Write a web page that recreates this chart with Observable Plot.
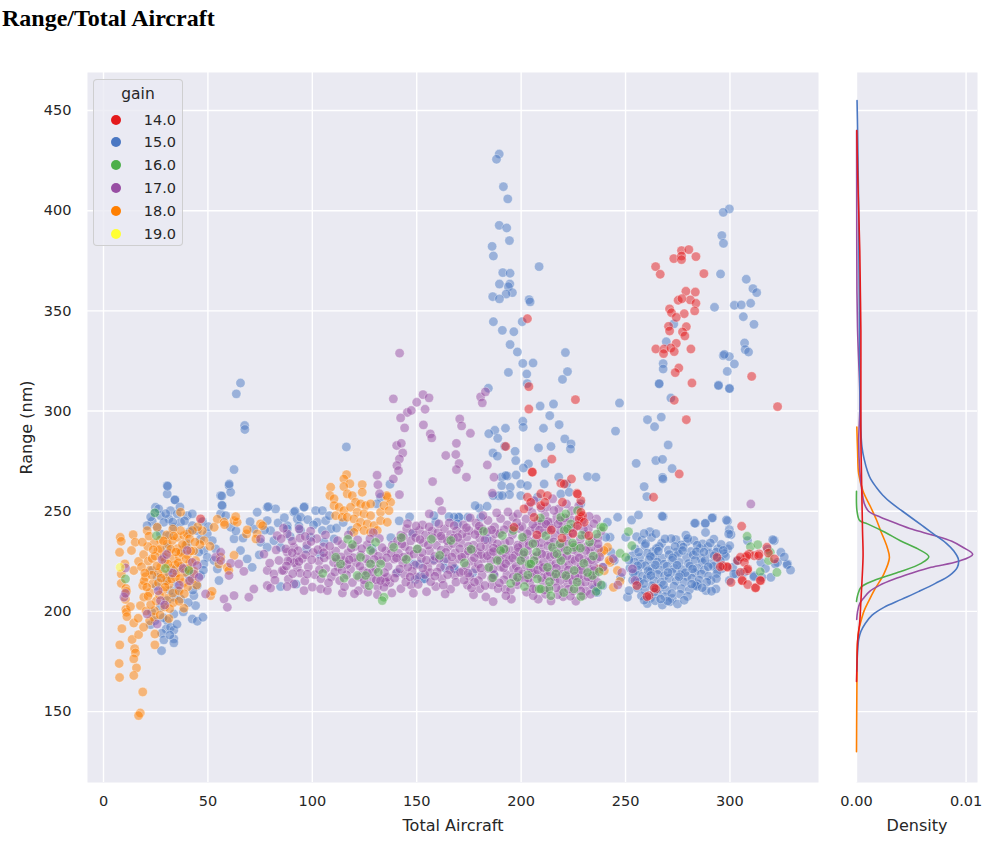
<!DOCTYPE html>
<html>
<head>
<meta charset="utf-8">
<script src="https://cdn.jsdelivr.net/npm/d3@7"></script>
<script src="https://cdn.jsdelivr.net/npm/@observablehq/plot@0.6"></script>
<style>
body { margin: 0; background: #fff; width: 1005px; height: 848px; overflow: hidden; position: relative; font-family: "DejaVu Sans", sans-serif; }
#title { position: absolute; left: 2px; top: 5px; font: bold 24px "Liberation Serif", "Times New Roman", serif; color: #000; }
#charts { position: absolute; left: 0; top: 40px; display: flex; }
#legend { position: absolute; left: 93px; top: 79px; width: 88px; height: 165px; border: 1px solid rgba(204,204,204,0.9); border-radius: 4px; background: rgba(234,234,242,0.8); color: #262626; }
#legend .lt { position: absolute; left: 0; width: 88px; top: 4px; text-align: center; font-size: 15.5px; line-height: 20px; }
#legend .li { position: absolute; left: 0; width: 88px; height: 20px; line-height: 20px; font-size: 14.5px; }
#legend .dot { position: absolute; left: 17px; top: 5px; width: 10px; height: 10px; border-radius: 50%; }
#legend .lab { position: absolute; right: 6px; }
svg [aria-label="x-axis label"], svg [aria-label="y-axis label"] { font-size: 16px !important; }
</style>
</head>
<body>
<div id="title">Range/Total Aircraft</div>
<div id="charts"></div>
<div id="legend"></div>
<script>
const gains = ["14.0", "15.0", "16.0", "17.0", "18.0", "19.0"];
const colors = ["#e41a1c", "#4a77c2", "#4daf4a", "#984ea3", "#ff7f00", "#ffff33"];
const xTicks = [0, 50, 100, 150, 200, 250, 300];
const yTicks = [150, 200, 250, 300, 350, 400, 450];
const densTicks = [0, 0.01];

// gain 15.0 [total aircraft, range]
const g15 = [
  [189.5,428.3],[188.2,425.7],[191.5,412],[193.6,405.9],[189.5,392.7],[193.1,391.4],[194.4,385.1],[186.1,382.2],[186.7,377.4],[208.6,372.1],
  [191.2,369.1],[194.7,368.8],[189.6,363.4],[194.6,363.4],[193.9,362.1],[195.8,359.1],[192.8,358.4],[186.4,357.1],[189.6,356],[203.8,355.6],
  [204.3,354.5],[186.7,344.6],[200.5,344.6],[191,340.3],[196.5,339.6],[194.7,333.2],[198.2,329.5],[221.2,329.2],[200.8,323.8],[205.7,324],
  [193.9,319.3],[222.2,319.7],[202.7,318.5],[219.8,315.8],[202.9,313.7],[184.3,311.4],[209.1,302.5],[215.5,303.5],[213.7,297.7],[218.2,293.2],
  [247.1,304],[200.8,294.9],[201,291.9],[192.5,291.4],[187.4,290.4],[184.5,288.7],[210.7,291.4],[245.2,290],[260.5,295.7],[263.9,292.2],[267.1,297],
  [188.8,286.4],[220.9,286.1],[223.9,283.6],[223.6,281.1],[214.3,282.3],[208.3,281.6],[211.5,273.8],[203.5,273.6],[197.1,279.9],[192.1,282.4],
  [186.5,279.1],[188.6,277.5],[197.4,275.3],[201.1,271.6],[218,267],[221.8,263.6],[190.7,267],[193.4,267.6],[197.6,268.1],[190.7,262.8],
  [199.8,263.6],[203,262.8],[194.8,262],[194.4,258.3],[189.4,257.7],[180,251.5],[183.7,252.5],[170.1,247],[168.2,221.5],[153.8,216.4],
  [151.9,217.7],[137.2,263.5],[116.3,282.1],[192.6,267.8],[211,263.6],[231.8,267.3],[235.8,267],[191,257.8],[199.8,257.8],[207.8,257],
  [219,258.6],[223,259.5],[228.6,253.7],[180.7,247],[170.3,247],[167.9,221.2],[153.5,216.2],[235,211.2],[239,212.9],[236.6,209.5],[241.3,244.5],
  [266.1,313.5],[294.5,313],[299.7,311.4],[271.7,306.5],[270.4,283.1],[255.1,273.9],[264.5,275.3],[267.7,275.9],[272.3,271.3],[267.7,266.9],
  [267.9,266.1],[258.9,262.3],[260.2,257.3],
  [299.7,400.9],[296.8,399.2],[296.1,387.6],[296.9,383.7],[295.5,368.4],[307.8,365.8],[311,361.1],[312.8,359.1],[309.9,353.8],[302.1,352.8],
  [305.4,353],[292.6,351.8],[306.4,347.1],[311.5,343.3],[273.1,343.5],[269.5,334.6],[307,334],[307.3,330.7],[308.9,329.5],[296.8,327.7],
  [299.7,327.2],[297.3,328.3],[302.1,323.5],[268,323.7],[268,321],[298.7,319.8],[266.1,313.7],[294.5,312.7],[299.8,311.2],
  [246.2,247],[252.9,245.6],[256.2,248.1],[268,247.3],[283.5,244],[288.2,243.8],[291.7,246.8],[298.9,245.1],[299.7,240.8],[300.5,238.3],
  [261.6,239.8],[274.1,235.8],[279.4,234.8],[250.1,237],[255.3,237.3],[242.6,237],
  [321.2,235.3],[324.4,229.5],[327.6,223.7],[322.8,224.5],[319.6,217],[314.8,224.5],[311.6,217.8],[306.8,219.5],[302.9,218.7],[301.3,222],
  [303.7,225.4],[294.1,220.4],[290.9,215.4],[288.5,210.4],[284.5,213.7],[293.3,211.2],[299.7,215.4],[298.9,231.2],[294.1,231.2],[308.4,235.3],
  [320.5,235.8],[327.3,223.3],[321.7,223.7],[315.3,217],[311.4,217.3],[301.8,218.7],[303.4,225.3],[299.9,232.8],[299.4,238.7],[298.3,245.6],
  [291.4,246.6],[288.2,244],[283.1,244],[267.5,247.5],[326,227.2],[317,221.4],[318,231.1],[329,220.6],
  [250.9,207.1],[251.7,210.4],[255.7,215.4],[247.7,217],[236.6,212],[235.8,209.5],[239,222],[243,229.5],[240.6,237],[244.6,225.4],
  [257.8,235.6],[262.4,236.9],[267.3,234.1],[271.9,236.3],[276.6,233.2],[282.8,235.4],[286.9,233.7],[292.3,236.1],[295.8,233.4],
  [254.6,231.2],[259.3,232.8],[263.1,229.8],[266.2,232.4],[270.5,230.6],[274.4,229.6],[277.6,232.1],[281.3,229.9],[285.7,231.5],[289.4,232.3],[293.6,229.7],[297.2,228.8],
  [252.9,227.6],[256.8,226.9],[260.4,229.1],[263.8,227.7],[267.5,226.6],[270.9,228.4],[275.3,228.8],[279.2,226.9],[282.4,228.2],[286.1,226.7],[290.3,228.9],[294.2,226.6],[297.9,227.5],
  [254.3,224.6],[257.6,223.7],[261.2,225.8],[265.1,224.7],[268.4,223.6],[272.2,225.6],[275.8,224.5],[280.1,223.9],[283.3,225.7],[286.8,224.4],[291.1,223.8],[295.4,225.2],
  [252.1,221.7],[255.9,220.6],[259.5,222.8],[262.8,221.4],[266.3,220.7],[269.8,222.6],[273.4,221.5],[277.1,220.8],[280.8,222.7],[284.4,221.6],[287.7,220.6],[292.1,222.5],[296.3,221.4],
  [254.8,218.8],[258.2,217.6],[261.9,219.7],[265.4,218.5],[268.7,217.8],[272.3,219.6],[276.2,218.4],[279.4,217.5],[283.1,219.4],[286.3,218.7],[289.8,217.6],[293.7,218.9],
  [253.4,215.6],[256.7,214.8],[260.3,216.7],[263.6,215.4],[267.2,214.6],[270.8,216.5],[274.3,215.3],[278.1,214.7],[281.7,216.6],[285.2,215.7],[288.9,214.6],
  [255.7,211.6],[259.2,210.7],[262.6,212.8],[266.1,211.5],[269.7,210.6],[273.2,212.7],[276.8,211.4],[280.6,210.8],[284.2,212.5],
  [257.6,207.8],[261.8,206.6],[265.3,208.9],[268.8,207.4],[272.4,206.5],[276.1,208.6],[279.7,207.5],
  [260.4,203.9],[264.2,205.3],[267.6,203.2],[271.3,204.8],[274.9,203.7],
  [264.5,238.8],[278.9,238.1],[288.3,239.4],[258.9,238.9],[283.5,212.9],[291.2,210.1],
  [259.6,233.8],[264.8,231.4],[268.9,236.2],[273.7,232.4],[279.8,236.4],[284.3,233.1],[290.6,234.2],[256.3,229.6],[261.9,227.4],[265.7,230.1],
  [272.6,226.8],[277.3,230.4],[283.9,229.8],[288.1,225.6],[292.4,227.8],[255.8,222.8],[260.8,220.3],[264.3,223.2],[270.3,219.4],[274.7,223.1],
  [278.6,219.3],[282.1,221.2],[289.6,222.3],[293.5,216.4],[258.7,213.9],[262.1,217.9],[268.2,213.3],[272.1,208.9],[275.6,217.3],[281.7,213.6],
  [286.7,211.8],[263.7,209.7],[270.2,205.2],[278.1,205.6],[258.9,205.6],[266.8,206.2],[287.5,229.6],[296.8,230.5],[253.7,219.3],[251.6,225.7],
  // left cluster and 50-140 band
  [30.5,262.8],[30.5,258.6],[34.2,255.8],[24.9,252],[24.6,249.2],[27.3,247.8],[32.1,250.3],[31.3,246.2],[28.9,244.5],[25.7,242],
  [33.7,242],[36.9,244.5],[40.1,247.8],[42.5,248.7],[42.5,242.8],[44.9,240.3],[46.5,236.2],[48.1,230.4],[49.7,227],[48.1,223.7],
  [46.5,217.9],[44.9,212.9],[43.3,207.9],[44.1,202.9],[42.5,196.2],[44.9,195.1],[47.6,197.1],[33.7,198.7],[30.5,195.4],[30,191.2],
  [32.1,192.1],[33.7,190.7],[27.9,189.1],[28.9,185.8],[33.7,186.3],[33.7,184.3],[27.8,180.4],[22.5,193.4],[24.7,195.4],[23.1,199.6],
  [27.3,202.1],[30.5,205.4],[33.7,207.1],[36.9,206.2],[32.1,210.4],[35.3,213.7],[29.7,215.4],[25.7,217],[23.3,220.4],[33.7,220.4],
  [37.7,222],[40.1,218.7],[41.7,215.4],[37.7,230.4],[40.1,233.7],[30.5,232],[28.9,227],[27.3,238.7],[31.3,237.8],[35.3,248.7],
  [23.3,245],[20.9,242.8],[49.7,238.7],[52.1,235.3],[53.7,231.2],[52.9,225.4],[54.5,221.2],[55.3,215.4],[56.1,248.7],[56.9,252.8],
  [56.1,257.8],[60.1,262.8],[60.9,259.5],[58.5,247.8],[60.9,242],[62.5,236.2],[65.6,230.4],[68.8,226.2],[71.2,222],[72,241.2],
  [75.2,234.5],[73.6,249.5],[78.4,252],[82.4,251.2],[78.4,245.3],[80,240.3],[81.6,235.3],[78.4,232],[84.8,232],[91.2,249.5],
  [92.8,246.2],[88,242.8],[65.6,314],[63.6,308.6],[67.6,292.8],[67.7,290.8],[62.5,270.8],[60.2,263.6],[56.7,257.6],[56.7,253],
  [30.7,262.5],[34.2,255.6],[78.9,252.3],[96.2,252.3],[101.6,250.3],[91.7,250],[96,252],[94.4,247],[104.8,250.3],[102.4,244.5],
  [106.4,245.3],[108.8,241.2],[104.8,240.4],[94.4,240.4],[88,241.2],[110.4,236.2],[99.2,237],[132.7,257],[131,253.7],[147.9,238.7],
  [148.7,223.7],[140.7,219.5],[163.1,225.4],[167.9,247],[169.5,243.7],[159.1,244.5],
  [22.6,247.1],[26.4,251.2],[29.8,248.8],[33.1,244.6],[36.6,252.1],[38.8,245.2],[41.3,239.8],[45.6,229.6],[47.4,244.8],[50.2,242.3],
  [31.6,218.4],[35.6,210.4],[38.2,199.8],[40.6,204.4],[42.8,210.6],[47.8,220.6],[25.4,212.6],[28.6,196.8],[31.8,188.2],[35.2,193.6],
  [63.4,240.2],[66.8,236.6],[70.2,244.8],[74.6,228.2],[77.2,240.6],[83.6,244.2],[86.6,246.8],[89.4,237.4],[93.6,242.6],[97.8,245.8],
  [100.6,243.2],[105.6,234.6],[108.2,247.8],[111.6,241.6],[114.8,244.4],[118.6,240.4],[97.2,231.2],[103.8,228.4],[92.2,213.6],[84.8,212.4],
  [128.6,231.4],[137.6,236.8],[141.6,245.2],[146.6,247.2],[158.2,247.8],[151.4,223.6],[176.8,219.2],[183.6,236.2],
  [165.5,247.3],[163.4,221.7],[158.2,225.9],[149.3,215.9],[174.5,247],[178,252.8],[186.6,257.8],[186.8,218.4]
];

// gain 18.0
const g18 = [
  [8,237],[8.5,235],[7.7,229.5],[10.2,223.7],[8.5,218.7],[8.5,214],[10.7,211.5],[11,210],[10.5,206],[10.7,201],
  [11,199.6],[11.2,197.4],[8.8,191.4],[7.8,183.3],[7.5,174],[7.7,167],[13.7,186],[14.9,181.4],[15.3,179.3],[14.5,176.3],
  [15.8,171.8],[14.5,168],[18.8,159.8],[17.6,149.3],[16.8,148],[16.8,188.4],[14.5,194.2],[12.9,202.4],[24.6,188.7],[24.6,183.3],
  [14.2,238.3],[15.2,234.5],[13.4,230.4],[16.8,225],[14.5,220.4],[18.8,212.9],[19.3,207.1],[17.7,202.9],[16.6,196.6],
  [20.9,240.3],[25.7,242],[27.3,235.7],[30.5,233.7],[32.9,235.3],[35.3,237],[38.5,237.8],[40.1,238.7],[36.9,240.3],[36.9,249.5],
  [47.3,240.3],[48.1,235.3],[51,232.5],[51.3,207.9],[38.5,201.6],[24.1,197.1],
  [19.2,228.4],[21.4,225.1],[22.3,220.6],[20.1,217.3],[23.5,213.8],[22.2,209.4],[25.3,205.2],[24.4,200.3],[26.1,230.5],[28.3,227.2],
  [27.4,222.1],[29.2,218.4],[26.3,214.2],[28.4,210.3],[30.2,206.5],[31.1,229.3],[33.4,226.2],[32.3,221.4],[34.4,217.2],[31.3,213.4],
  [33.2,209.1],[35.4,231.3],[36.3,227.4],[37.2,222.5],[35.1,219.2],[38.3,214.4],[36.2,210.2],[39.4,233.1],[40.2,228.3],[41.3,224.2],
  [39.1,219.5],[42.4,216.1],[40.3,212.3],[43.2,230.2],[44.1,225.4],[30.3,238.2],[33.2,241.1],[24.3,234.2],[21.2,232.4],[18.2,222.3],
  [19.4,215.2],[23.3,226.4],[27.2,231.3],[29.4,225.2],[32.2,231.1],[34.3,223.3],[37.1,229.4],[26.2,219.3],[30.4,215.2],[23.2,218.1],
  [29.3,202.2],[33.4,204.3],[36.2,205.1],[27.1,198.2],[31.3,196.4],[20.4,200.2],[22.1,195.3],[19.2,192.1],[41.2,236.3],[45.1,242.2],
  [43.3,220.1],[46.2,233.4],
  [18.6,234.6],[20.7,212.1],[21.8,237.6],[22.6,203.4],[24.7,227.6],[25.6,222.7],[26.8,208.2],[27.6,216.6],[28.7,235.2],[29.5,212.1],
  [30.8,223.7],[31.7,201.4],[32.6,216.2],[33.6,237.6],[34.7,229.7],[35.8,224.3],[36.5,216.4],[37.8,233.4],[38.7,208.8],[39.6,226.2],
  [40.7,221.3],[41.8,230.2],[42.6,240.4],[43.8,234.6],[44.6,213.2],[21.3,207.6],[23.8,230.8],[19.8,219.2],
  [54.5,246],[57.7,244.5],[62.5,245.3],[64,244.5],[56.1,227],[55.3,223.7],[59.3,222],[62.5,228],[68.5,238.7],[73.6,238.7],
  [73,236.2],[75.2,243.7],[58,243.3],[63.3,247.3],[68.8,240.7],[76.2,242.8],[53,242],[52,210],[60,220.5],
  [116.4,268.3],[115.1,266.1],[118,263.7],[115.1,262.3],[123.9,263.3],[123.9,259.5],[108.8,262],[108.4,257.8],[110.4,256.2],[116.7,258.7],
  [119.1,257.8],[120.7,254.5],[123.1,253.7],[125.5,252.8],[127.9,253.7],[110.4,252.8],[112.8,252],[115.1,250.3],[118.3,252],[121.5,249.5],
  [124.7,248.7],[127.9,247.8],[111.2,247.8],[114.3,247],[116.7,247],[119.9,246.2],[123.1,244.5],[126.3,243.7],[129.5,242.8],[121.5,242],
  [124.7,240.4],[127.9,239.5],[119.9,239.5],[132.7,249.5],[135.9,257],[137.5,254.5],[134.3,252.8],[135.6,257.8],[136.7,250.3],[132.7,245.3],
  [135.9,244.5],[131.1,240.4],
  [242.6,224.5],[239.8,220.3],[244.2,212],[247.3,215],[238.5,229.5],[241.4,232],[237.4,221.2],[242.1,225.4],[239.7,230.4],[246.1,220.4]
];

// gain 17.0
const g17 = [
  [141.8,328.9],[138.8,306.1],[150,304.4],[153,308.2],[155.9,306.6],[154,300.9],[145.5,299.3],[147.4,300.3],[142.3,296.6],[144.2,291.6],
  [153.2,293.1],[156.5,288.6],[157.2,286.6],[140.4,282.8],[142.6,283.9],[143.3,279.1],[141.7,276.1],[140.5,272.8],[141.3,270.3],[138.8,266.1],
  [131,268],[131.4,263.2],[132.2,258.7],[141.7,258.3],[157.6,264.8],[170.6,296.1],[171.5,292.6],[175.7,288.9],[169,283.9],[163.9,277.8],
  [168.7,278.3],[170.3,273.8],[169,270.8],[173.8,267],[160.8,255],[162,250.3],[156,248.7],[180.6,307.1],[181.4,304.1],[182.9,309.6],
  [183.8,273.1],[187,267],[186.2,259],[310,253.6],[253.3,221.2],[254.5,215.4],[244.1,226.3],[248.2,219.4],[246.3,213.2],
  [9.8,207.1],[10.5,209],[10.5,221.7],[20.9,198.7],[25.7,193.7],[28.1,225.9],[27.3,205.4],[40.1,230.4],[42.5,224.5],[44.9,222.9],
  [43.3,218.7],[45.7,217],[48.9,208.7],[53.7,227],[56.1,229.5],[56.1,225.4],[60.9,224],[60.1,217.9],[57.7,206.2],[59.3,202.1],
  [62.5,207.9],[64.8,223.7],[67.2,220],[72,211.2],[69.6,207.1],[78.4,220.4],[78.4,212.9],[80,211.7],[81.6,218.7],[84,225.4],
  [86.4,220.4],[88,229.5],[89.6,225.4],[91.2,232],[92.8,227],[92.8,222],[88,238.7],[83.2,237.8],[75.2,236.2],[30.2,228.4],
  [33.1,219.2],[36.3,213.1],[26.2,210.3],[38.1,221.4],[41.2,215.3],[29.3,203.2],
  [85.6,220.4],[88.5,216.1],[91.2,213.7],[96,210.4],[100,212.1],[104,211.2],[107.2,210.4],[87.3,231.2],[90.4,235.1],[93.2,230.3],
  [95.3,226.4],[98.1,222.2],[101.2,218.3],[97.4,233.2],[100.3,229.4],[103.2,225.1],[106.4,221.3],[109.1,217.2],[94.2,219.1],[91.3,224.3],
  [102.1,236.3],[105.3,232.2],[108.2,228.1],[96.4,215.2],[104.1,216.3],[110.2,224.4],[88.3,225.2],[99.2,240.1],[106.3,238.2],
  [111.2,230.1],[114.3,233.3],[117.1,229.2],[120.4,232.4],[123.2,228.1],[126.3,233.2],[129.1,229.4],[112.4,222.2],[115.2,225.3],[118.3,221.1],
  [121.1,224.4],[124.3,220.2],[127.2,224.1],[130.4,221.3],[133.1,225.2],[136.3,222.4],[139.2,226.1],[113.1,215.3],[116.4,218.2],[119.2,214.4],
  [122.3,217.1],[125.1,213.3],[128.4,216.2],[131.2,212.4],[134.3,216.1],[137.1,214.3],[135.2,230.2],[138.4,233.1],[132.1,236.4],[140.2,219.1],
  [117.3,238.2],[129.2,239.3],[114.4,209.2],[122.1,210.3],[135.1,214.6],[135.9,217],[134.3,212.1],[131.2,208.3],[138.1,209.2],
  [141.2,229.1],[144.3,232.4],[147.1,235.2],[150.4,231.1],[153.2,234.3],[156.1,230.2],[159.4,233.1],[162.2,236.3],[165.1,232.4],[168.3,229.2],
  [142.4,238.1],[145.2,241.3],[148.1,239.2],[151.3,240.4],[154.2,238.2],[157.4,240.1],[160.1,239.3],[163.3,241.2],[166.2,238.4],[169.1,240.2],
  [143.3,224.2],[146.1,227.3],[149.4,223.1],[152.2,226.4],[155.3,222.2],[158.1,225.3],[161.4,222.1],[164.2,226.2],[167.1,223.4],[170.3,226.1],
  [144.2,218.3],[150.1,217.2],[156.3,219.4],[162.1,216.3],[168.2,218.1],[147.3,213.2],[159.1,212.4],[166.2,211.1],[142.4,211.3],
  [171.2,234.3],[174.1,237.2],[177.3,233.1],[180.2,236.4],[183.4,232.2],[186.1,235.3],[189.3,231.1],[192.2,234.2],[195.1,230.4],[198.3,233.1],
  [172.3,243.2],[175.1,240.3],[178.4,244.1],[181.2,241.2],[184.1,245.4],[187.3,242.1],[190.2,246.3],[193.4,243.2],[196.1,247.1],[199.2,241.4],
  [173.1,228.2],[176.3,225.1],[179.2,229.3],[182.1,226.4],[185.4,229.1],[188.2,226.3],[191.1,229.2],[194.3,225.4],[197.2,228.1],[200.1,225.2],
  [172.2,220.1],[175.4,217.3],[178.1,221.2],[181.3,218.1],[184.2,221.4],[187.1,218.2],[190.3,222.1],[193.2,218.3],[196.4,221.2],[199.1,217.4],
  [174.3,213.1],[180.2,211.3],[186.1,213.2],[192.4,211.1],[198.2,213.3],[183.1,207.2],[195.3,206.1],[177.2,208.3],
  [201.2,237.1],[204.3,240.2],[207.1,236.4],[210.2,239.1],[213.4,235.3],[216.1,238.2],[219.3,234.1],[222.2,237.3],[225.1,233.2],[228.4,236.1],
  [231.2,232.3],[234.1,235.2],[202.3,246.1],[205.2,249.3],[208.1,245.2],[211.4,248.1],[214.2,244.3],[217.1,247.2],[220.3,243.1],[223.2,246.4],
  [226.1,242.2],[229.3,245.1],[232.2,241.3],[203.1,230.2],[206.3,227.1],[209.2,231.3],[212.1,228.2],[215.4,231.1],[218.2,227.3],[221.1,230.2],
  [224.3,226.1],[227.2,229.4],[230.1,226.2],[233.3,229.1],[236.2,226.3],[202.2,222.1],[205.1,219.3],[208.4,223.2],[211.2,220.1],[214.1,223.3],
  [217.3,219.2],[220.2,222.4],[223.1,218.1],[226.4,221.2],[229.2,218.3],[232.1,221.1],[235.3,218.2],[204.2,214.3],[207.1,211.2],[210.3,215.1],
  [213.2,212.3],[216.1,215.2],[219.4,211.1],[222.2,214.2],[225.1,210.3],[228.3,213.1],[231.2,210.2],[234.1,213.3],[208.2,206.1],[214.3,205.2],
  [220.1,207.3],[226.2,205.1],[212.3,252.1],[218.1,251.2],[224.2,250.3],[237.1,231.2],[239.2,222.1],[238.3,240.2],[236.1,246.1],[206.2,255.3],
  [215.1,256.2],[200.4,242.3],[209.7,243.6],[221.6,240.1],[195.8,238.3],[187.6,238.8],[179.4,240.1],[165.6,244.2],
  [76.8,228.6],[79.6,224.1],[82.7,230.7],[85.1,236.3],[87.9,212.4],[90.6,218.8],[93.7,241.2],[96.8,228.2],[99.4,234.9],[102.6,230.8],
  [105.7,226.7],[108.3,232.5],[82.1,215.6],[97.6,218.6],[103.4,220.8],[107.8,214.3],[94.1,236.6],[86.2,241.5],
  [110.8,219.6],[113.7,227.2],[116.6,223.4],[119.7,226.8],[122.8,222.6],[125.9,226.2],[128.8,219.6],[131.7,227.6],[134.6,219.4],[137.8,229.1],
  [112.1,235.3],[115.4,212.3],[118.6,231.6],[121.7,235.7],[124.8,215.6],[127.6,236.2],[130.6,215.8],[133.4,231.8],[139.4,216.6],[120.2,208.8],[126.6,209.6],
  [140.8,235.2],[143.7,227.1],[146.6,230.4],[149.5,236.8],[152.6,229.3],[155.5,233.1],[158.6,227.5],[161.7,230.6],[164.6,235.3],[167.5,233.8],
  [141.9,221.2],[144.8,214.6],[147.8,220.1],[150.7,213.5],[153.8,218.4],[156.7,214.8],[159.8,219.7],[162.7,213.1],[165.8,220.8],[168.8,214.6],
  [145.6,243.8],[152.8,243.2],[160.6,243.7],[167.6,236.6],[154.7,209.8],[163.6,208.7],[148.4,209.1],
  [170.6,231.3],[173.6,222.8],[176.7,230.6],[179.5,223.6],[182.6,235.7],[185.5,225.2],[188.6,233.7],[191.6,221.7],[194.5,235.1],[197.6,222.6],
  [171.8,238.7],[174.8,232.5],[177.9,238.4],[180.8,228.4],[183.7,239.7],[186.8,231.6],[189.7,238.9],[192.8,227.4],[195.7,241.2],[198.8,229.7],
  [172.7,215.6],[176.2,211.7],[179.6,215.4],[182.7,212.9],[185.9,216.6],[188.9,211.4],[191.8,215.8],[194.9,210.6],[197.6,214.8],[175.6,246.7],
  [181.7,247.8],[188.3,249.2],[193.7,249.6],[198.4,248.6],[186.6,204.9],[192.7,207.8],
  [200.7,233.6],[203.6,235.1],[206.8,241.6],[209.6,234.3],[212.7,240.6],[215.6,234.7],[218.8,240.4],[221.7,233.6],[224.6,239.2],[227.7,232.6],
  [230.8,238.4],[233.6,232.1],[236.7,236.8],[201.8,226.4],[204.7,224.2],[207.6,227.8],[210.7,224.6],[213.8,227.3],[216.6,223.9],[219.7,226.6],
  [222.8,223.4],[225.7,225.4],[228.6,222.6],[231.7,224.8],[234.8,222.4],[237.6,227.2],[200.8,218.6],[203.7,216.6],[206.6,218.7],[209.8,216.8],
  [212.6,217.6],[215.8,217.3],[218.6,215.4],[221.8,216.8],[224.7,214.8],[227.6,216.7],[230.7,214.6],[233.8,216.7],[236.6,214.4],[202.6,209.6],
  [205.8,207.8],[211.7,208.6],[217.6,208.3],[223.6,207.6],[229.7,207.8],[209.6,251.6],[215.7,250.4],[221.7,253.6],[227.6,252.7],[203.6,252.3],
  [232.6,247.4],[212.8,244.8],[218.7,245.4],
  [140.3,226.7],[142.9,233.6],[145.8,222.1],[148.6,228.6],[151.6,235.9],[154.6,225.6],[157.8,236.8],[160.8,226.4],[163.9,229.5],[166.8,227.2],
  [169.7,236.9],[143.6,237.4],[149.7,242.6],[155.9,242.2],[161.6,237.6],[167.9,242.8],[146.8,217.2],[152.9,221.6],[158.7,217.6],[164.8,218.3],[170.9,219.4],
  [171.6,227.1],[174.7,230.1],[177.6,226.8],[180.6,232.2],[183.8,227.8],[186.7,229.9],[189.8,225.4],[192.6,230.8],[195.9,226.6],[198.6,231.9],
  [173.8,241.8],[179.9,242.6],[185.9,240.7],[191.9,240.8],[197.9,244.3],[174.6,219.1],[180.7,221.6],[186.6,221.1],[192.6,223.8],[198.7,220.2],
  [177.7,214.6],[189.6,214.2],[196.2,217.2],
  [200.9,228.4],[203.8,232.9],[206.7,233.8],[209.9,228.6],[212.8,232.7],[215.9,228.3],[218.9,231.8],[221.9,227.6],[224.9,230.8],[227.8,226.7],
  [230.9,230.4],[233.7,225.8],[236.8,233.7],[202.9,238.8],[205.6,243.4],[208.8,240.7],[211.9,243.6],[214.8,241.4],[217.8,243.6],[220.9,246.6],
  [223.8,241.7],[226.9,245.7],[229.9,240.8],[234.8,243.8],[201.7,215.8],[204.6,221.6],[207.9,220.6],[210.6,221.9],[213.8,219.6],[216.9,221.6],
  [219.8,218.6],[222.6,220.7],[225.8,217.6],[228.8,220.6],[231.9,217.2],[234.9,220.4],[205.6,211.3],[211.2,210.6],[216.8,211.8],[222.7,211.1],
  [228.6,210.2],[233.2,208.6],
  [87.6,222.7],[93.6,224.9],[99.7,225.8],[105.4,229.3],[111.6,226.1],[117.7,225.8],[123.7,231.3],[129.7,225.9],[135.6,226.8],[90.4,229.3],
  [96.6,237.4],[114.2,220.4],[126.4,219.2],[132.6,215.4]
];

// gain 16.0
const g16 = [
  [121.5,217.9],[125.5,217.9],[127.9,223.7],[132.7,223.7],[123.1,227],[127.9,230.4],[130.3,234.5],[134.3,207.1],[133.5,205.4],[113.5,223.7],
  [111.2,227],[150.3,231.2],[166.3,235.4],[191,237.9],[191.8,231.2],[199.8,225.4],[203.8,223.7],[206.2,225.4],[208.6,211.2],[213.4,211.2],
  [221.4,217.9],[225.3,211.2],[225.3,232],[220.6,240.4],[223.8,243.7],[219,247],[221.4,248.7],[190.2,230.4],[188.6,225.4],[184.6,222],
  [198.2,217],[204.6,223.7],[207.8,216.2],[209.4,211.2],[219,225.4],[222.2,230.4],[225.4,220.4],[227,250.3],[234.2,217.9],[238.2,242],
  [201.4,229.5],[200.6,237],[215,232],[222.2,241.2],[216.6,218.7],[212.6,222],[251.4,239.8],[253,232.8],[247.4,229],[250.1,227],
  [239.4,242],[308.2,237.5],[309.8,232.3],[313.3,233.3],[319.3,229.5],[314.5,219.8],[322.5,219.5],[318.5,225.4],[24.6,249.2],
  [25.4,237.8],[10.5,216.2],[40.9,220.4],[117,236],[139,232],[145,226],[157,236],[176,231],[230,224],[195,214],[182,240],
  [229,238],[236,210],[105,219],[161,228],
  [115.2,216.6],[119.2,233.4],[127.2,212.8],[131.6,219.6],[142.6,236.8],[172.8,224.2],[186.4,216.8],[205.6,233.8],[211.8,237.8],[217.2,228.8],
  [228.4,231.6],[231.8,219.4],[234.6,227.6],[238.4,213.2],[201.6,212.4],[209.2,246.6],[196.2,240.4],[236.2,238.6],[224.6,234.2],[29.6,221.4],
  [203.2,218.2],[207.4,229.6],[213.6,214.8],[218.6,233.8],[226.8,214.6],[232.8,234.6],[237.4,219.8],[220.4,209.4],[214.2,207.8],[228.6,207.4]
];

// gain 14.0
const g14 = [
  [203,346.1],[203.7,312.2],[203.7,301],[226,305.7],[264.4,372.1],[266.6,368.3],[273.1,376.1],[276.8,380.1],[280.3,380.6],[276.8,377.4],
  [276.8,375.6],[283.7,377.1],[287.5,368.6],[278.9,359.8],[283.4,359.4],[275.2,355.3],[281,355.5],[277,356.1],[283.7,353.8],[271.1,351],
  [272,349.1],[278.1,348.6],[283.1,350],[274.3,346.8],[270.6,342.3],[271.1,340],[279.1,342.1],[277.3,339.5],[278.4,337.5],[274.3,333.8],
  [264.5,331],[268.4,331],[268.2,328.7],[271.7,331.5],[273.3,329.7],[281.3,331],[275.5,321.5],[273.8,319.2],[281.8,314],[310.4,317.3],
  [273.3,305.4],[279.1,295.7],[322.8,302.2],
  [192.6,282.3],[214.7,276],[205.2,269.6],[224.1,266.1],[219,264],[209.4,258.7],[275.7,268.6],[263.4,257],[305.6,242.5],[226.7,259],
  [228.6,255.3],[228.6,247],[229.4,247.8],[205.4,269.5],[220.6,263.6],[227,258.6],[203,257],[204.6,254.5],[209.4,252.8],[212.6,257.8],
  [211.3,254.5],[201.4,251.2],[206.2,247],[227.8,246.2],[230.2,244.5],[228.6,249.5],[196.6,242],[227,242.8],[219.8,254.5],
  [214.4,240.6],[219.6,236.6],[224.8,238.8],[232.4,237.8],[207.6,238.2],
  [300.5,214.5],[306,215.4],[308.4,220.4],[312.4,212],[314.8,215.4],[309.2,228.7],[311.6,227.8],[314,228.7],[317.7,232],[307.6,227],
  [303.7,225.4],[296.5,222.8],[298.9,222],[264.5,211.2],[261.3,207.9],[255.4,212.9],[308.2,227.8],[313.7,227.8],[305,227],[306.9,224.5],
  [308.5,221.2],[305,219.5],[305.8,215.4],[308.5,213.4],[312.2,211.7],[298.6,222.3],[295.4,222.3],[293.8,227],[260.3,207.4],[263.8,211.7],
  [314.5,215.4],[46.5,246.2],[318.4,229.1],[321.3,226.2]
];

// gain 19.0
const g19 = [[8,222]];

// kde of range by gain: [range, density]
const d14 = [[165,0],[175,0.00005],[185,0.0001],[195,0.0003],[205,0.0004],[215,0.0005],[228,0.0006],[240,0.00055],[255,0.0005],[270,0.00045],[285,0.0004],[300,0.0004],[320,0.0004],[340,0.0004],[360,0.00035],[380,0.0003],[400,0.0002],[420,0.0001],[440,0.00003]];
const d15 = [[170,0.00002],[180,0.0001],[186,0.0002],[190,0.0004],[194,0.0008],[198,0.0014],[202,0.0025],[206,0.0041],[210,0.0057],[214,0.0072],[218,0.0085],[222,0.0092],[226,0.0093],[230,0.0089],[234,0.0082],[238,0.0072],[242,0.0062],[246,0.0052],[250,0.0042],[254,0.0032],[258,0.0024],[262,0.0018],[266,0.0013],[270,0.001],[276,0.0007],[282,0.0005],[290,0.0004],[300,0.00035],[320,0.0003],[340,0.00027],[360,0.00025],[380,0.00022],[400,0.0002],[420,0.00015],[440,0.0001],[455,0.00005]];
const d16 = [[205,0],[208,0.0001],[212,0.0004],[215.4,0.0016],[219.5,0.0038],[224,0.0059],[227.3,0.0066],[231.2,0.0056],[235.3,0.004],[239.5,0.0026],[243.7,0.001],[245.3,0.0003],[250,0.00005],[260,0]];
const d17 = [[196,0.00002],[200,0.0001],[204,0.0003],[207,0.0007],[210,0.0012],[213,0.0021],[216,0.0034],[219,0.005],[222,0.0068],[225,0.0093],[228.5,0.0106],[232,0.0097],[235,0.0087],[238,0.007],[241,0.0051],[244,0.0036],[247,0.0022],[250,0.0011],[254,0.0007],[260,0.0005],[270,0.0003],[285,0.0002],[300,0.0003],[310,0.0003],[325,0.0002],[340,0.0001],[360,0.00004],[400,0.00002],[440,0.00001]];
const d18 = [[130,0],[150,0.00002],[165,0.00004],[177,0.00005],[185,0.0001],[190.4,0.0002],[195,0.0004],[200.4,0.0007],[205,0.0011],[210.4,0.0016],[218.7,0.0025],[226.7,0.003],[232,0.0028],[240.3,0.0022],[246,0.0018],[252,0.0013],[260,0.0006],[268.6,0.0002],[280,0.0001],[292,0.00003]];

const series = [["15.0", g15], ["18.0", g18], ["17.0", g17], ["16.0", g16], ["14.0", g14], ["19.0", g19]];
const points = series.flatMap(([gain, pts]) => pts.map(([x, y]) => ({x, y, gain})));
const dens = [["18.0", d18], ["17.0", d17], ["16.0", d16], ["15.0", d15], ["14.0", d14]]
  .flatMap(([gain, pts]) => pts.map(([y, d]) => ({y, d, gain})));

const bg = "#eaeaf2";
const yDomain = [114.6, 469];
const textStyle = {background: "transparent", fontFamily: "DejaVu Sans, sans-serif", fontSize: "14.5px", color: "#262626"};

const main = Plot.plot({
  width: 830, height: 808,
  marginLeft: 87, marginRight: 12, marginTop: 32, marginBottom: 66,
  style: textStyle,
  x: {domain: [-7.66, 342.4]},
  y: {domain: yDomain},
  color: {domain: gains, range: colors},
  marks: [
    Plot.frame({fill: bg, stroke: null}),
    Plot.gridX(xTicks, {stroke: "white", strokeOpacity: 1, strokeWidth: 1.4}),
    Plot.gridY(yTicks, {stroke: "white", strokeOpacity: 1, strokeWidth: 1.4}),
    Plot.dot(points, {x: "x", y: "y", fill: "gain", r: 4.7, fillOpacity: 0.5, stroke: "white", strokeWidth: 0.6, strokeOpacity: 0.6}),
    Plot.axisX(xTicks, {tickSize: 0, tickPadding: 13, label: "Total Aircraft", labelAnchor: "center", labelOffset: 48, labelArrow: "none"}),
    Plot.axisY(yTicks, {tickSize: 0, tickPadding: 16, label: "Range (nm)", labelAnchor: "center", labelOffset: 67, labelArrow: "none"})
  ]
});

const marg = Plot.plot({
  width: 175, height: 808,
  marginLeft: 26, marginRight: 28, marginTop: 32, marginBottom: 66,
  style: textStyle,
  x: {domain: [0, 0.01104]},
  y: {domain: yDomain},
  color: {domain: gains, range: colors},
  marks: [
    Plot.frame({fill: bg, stroke: null}),
    Plot.gridX(densTicks, {stroke: "white", strokeOpacity: 1, strokeWidth: 1.4}),
    Plot.gridY(yTicks, {stroke: "white", strokeOpacity: 1, strokeWidth: 1.4}),
    Plot.line(dens, {x: "d", y: "y", z: "gain", stroke: "gain", strokeWidth: 1.6, curve: "catmull-rom"}),
    Plot.axisX(densTicks, {tickSize: 0, tickPadding: 13, tickFormat: d3.format(".2f"), label: "Density", labelAnchor: "center", labelOffset: 48, labelArrow: "none"}),
    Plot.axisY({ticks: [], label: null, tickSize: 0})
  ]
});

const box = document.getElementById("charts");
box.append(main, marg);

document.getElementById("legend").innerHTML = `<div class="lt">gain</div>` +
  gains.map((g, i) => `<div class="li" style="top:${29.5 + i * 22.8}px"><span class="dot" style="background:${colors[i]}"></span><span class="lab">${g}</span></div>`).join("");
</script>
</body>
</html>
